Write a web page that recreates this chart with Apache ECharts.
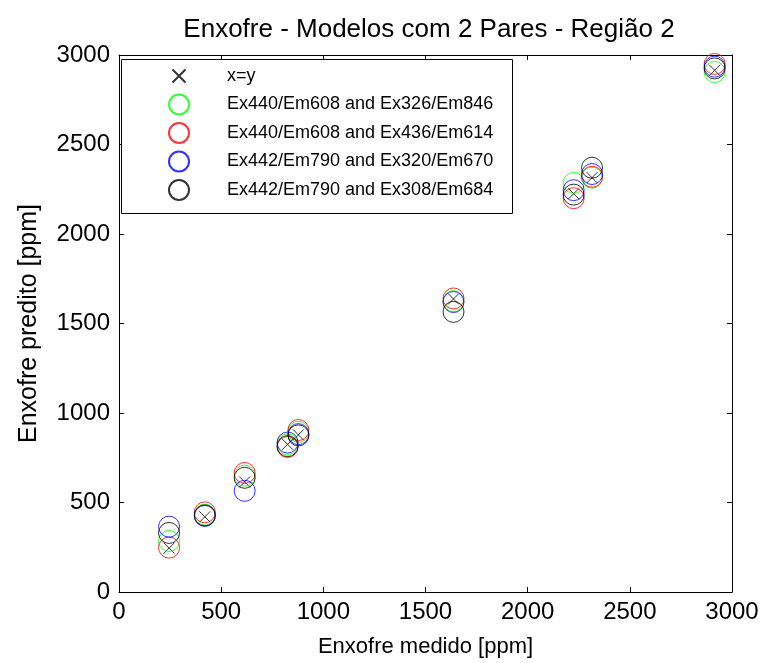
<!DOCTYPE html>
<html>
<head>
<meta charset="utf-8">
<script src="https://cdn.jsdelivr.net/npm/echarts@6/dist/echarts.min.js"></script>
<style>
  html, body { margin: 0; padding: 0; background: #fff; }
  #chart { width: 763px; height: 663px; }
</style>
</head>
<body>
<div id="chart"></div>
<script>
// Measured sulfur content (ppm) of the samples
const measured = [245, 420, 615, 825, 878, 1637, 2225, 2315, 2915];

// Predicted sulfur content (ppm) for each pair of excitation/emission models
const predGreen = [285, 432, 650, 825, 895, 1625, 2285, 2315, 2905];
const predRed   = [248, 445, 665, 810, 905, 1640, 2200, 2320, 2950];
const predBlue  = [365, 425, 565, 835, 882, 1620, 2245, 2335, 2935];
const predBlack = [330, 428, 638, 815, 875, 1565, 2220, 2370, 2925];

const seriesNames = [
  'x=y',
  'Ex440/Em608 and Ex326/Em846',
  'Ex440/Em608 and Ex436/Em614',
  'Ex442/Em790 and Ex320/Em670',
  'Ex442/Em790 and Ex308/Em684'
];
const seriesColors = ['#000000', '#00ff00', '#ff0000', '#0000ff', '#000000'];

const axisMin = 0, axisMax = 3000, axisStep = 500;

const FONT = 'Liberation Sans';

function pairs(xs, ys) { return xs.map((x, i) => [x, ys[i]]); }

// cross marker; the legend version carries extra move-to points as margin
const crossPath = 'path://M0,0L10,10M10,0L0,10';
const crossLegendIcon = 'path://M-1.25,-2.7M0,0L10,10M10,0L0,10M11.25,12.7';

const chart = echarts.init(document.getElementById('chart'), null, { renderer: 'canvas' });

const baseAxis = {
  type: 'value',
  min: axisMin,
  max: axisMax,
  interval: axisStep,
  axisLine: { show: true, onZero: false, lineStyle: { color: '#000', width: 1 } },
  axisTick: { show: true, inside: true, length: 5, lineStyle: { color: '#000', width: 1 } },
  splitLine: { show: false },
  axisLabel: { show: false }
};

const labelStyle = {
  show: true, color: '#000', fontFamily: FONT, fontSize: 24,
  formatter: v => String(v)
};

const circleSeries = [predGreen, predRed, predBlue, predBlack].map((ys, k) => ({
  name: seriesNames[k + 1],
  type: 'scatter',
  xAxisIndex: 0,
  yAxisIndex: 0,
  symbol: 'circle',
  symbolSize: 21,
  itemStyle: { color: 'rgba(0,0,0,0)', borderColor: seriesColors[k + 1], borderWidth: 1 },
  emphasis: { disabled: true },
  data: pairs(measured, ys)
}));

chart.setOption({
  animation: false,
  backgroundColor: '#fff',
  title: {
    text: 'Enxofre - Modelos com 2 Pares - Região 2',
    left: 424,
    textAlign: 'center',
    top: 12,
    textStyle: { color: '#000', fontFamily: FONT, fontSize: 26, fontWeight: 'normal' }
  },
  grid: { left: 119, right: 31, top: 55, bottom: 71, containLabel: false },
  xAxis: [
    Object.assign({}, baseAxis, {
      position: 'bottom',
      name: 'Enxofre medido [ppm]',
      nameLocation: 'middle',
      nameGap: 44,
      nameTextStyle: { color: '#000', fontFamily: FONT, fontSize: 22 },
      axisLabel: Object.assign({}, labelStyle, { margin: 8 })
    }),
    Object.assign({}, baseAxis, { position: 'top' })
  ],
  yAxis: [
    Object.assign({}, baseAxis, {
      position: 'left',
      name: 'Enxofre predito [ppm]',
      nameLocation: 'middle',
      nameGap: 77,
      nameTextStyle: { color: '#000', fontFamily: FONT, fontSize: 25 },
      axisLabel: Object.assign({}, labelStyle, { margin: 9 })
    }),
    Object.assign({}, baseAxis, { position: 'right' })
  ],
  legend: {
    orient: 'vertical',
    left: 168,
    top: 65,
    padding: 0,
    itemWidth: 20,
    itemHeight: 20,
    itemGap: 6.5,
    z: 5,
    data: [{ name: seriesNames[0], icon: crossLegendIcon }].concat(seriesNames.slice(1)),
    textStyle: { color: '#000', fontFamily: FONT, fontSize: 18, lineHeight: 20, padding: [0, 0, 0, 33] }
  },
  graphic: [{
    type: 'rect',
    z: 4,
    shape: { x: 121.5, y: 59.5, width: 391, height: 154 },
    style: { fill: '#fff', stroke: '#000', lineWidth: 1 }
  }],
  series: [{
    name: seriesNames[0],
    type: 'scatter',
    xAxisIndex: 0,
    yAxisIndex: 0,
    symbol: crossPath,
    symbolSize: 11,
    itemStyle: { color: 'rgba(0,0,0,0)', borderColor: '#000', borderWidth: 1 },
    emphasis: { disabled: true },
    data: pairs(measured, measured)
  }].concat(circleSeries)
});
</script>
</body>
</html>
